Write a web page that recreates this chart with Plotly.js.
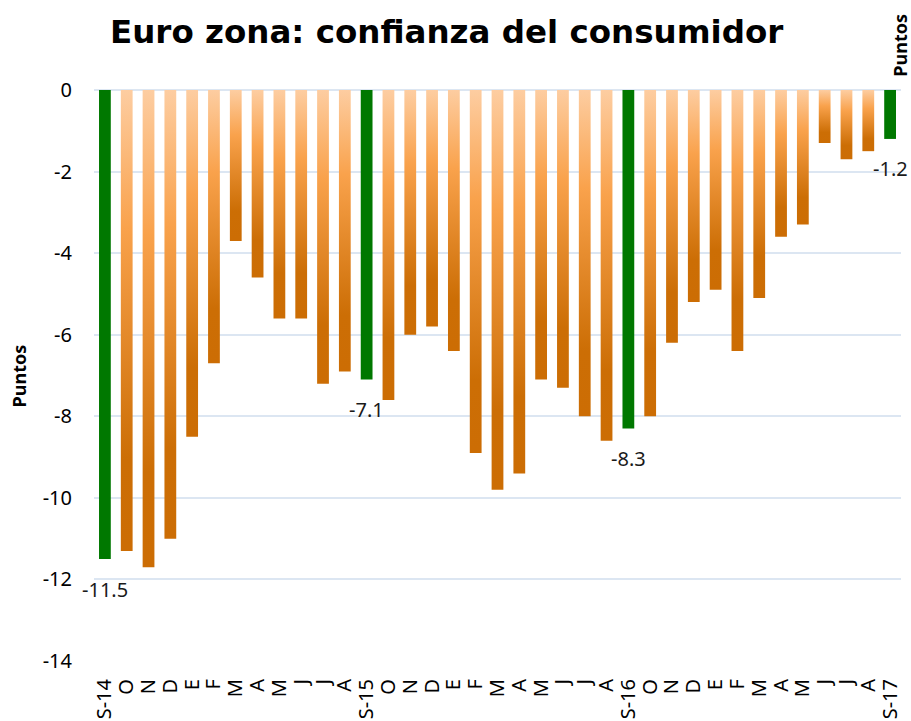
<!DOCTYPE html>
<html>
<head>
<meta charset="utf-8">
<script src="https://cdn.plot.ly/plotly-3.0.1.min.js"></script>
<style>
  html, body { margin: 0; padding: 0; background: #ffffff; }
  #chart { width: 911px; height: 721px; }
</style>
</head>
<body>
<div id="chart"></div>
<script>
// Month labels (Sep-2014 to Sep-2017)
var monthLabels = ["S-14","O","N","D","E","F","M","A","M","J","J","A",
                   "S-15","O","N","D","E","F","M","A","M","J","J","A",
                   "S-16","O","N","D","E","F","M","A","M","J","J","A",
                   "S-17"];
// Consumer confidence, points
var confidence = [-11.5,-11.3,-11.7,-11.0,-8.5,-6.7,-3.7,-4.6,-5.6,-5.6,-7.2,-6.9,
                  -7.1,-7.6,-6.0,-5.8,-6.4,-8.9,-9.8,-9.4,-7.1,-7.3,-8.0,-8.6,
                  -8.3,-8.0,-6.2,-5.2,-4.9,-6.4,-5.1,-3.6,-3.3,-1.3,-1.7,-1.5,
                  -1.2];
var yTickVals = [0,-2,-4,-6,-8,-10,-12,-14];

var GREEN = '#007800';
var ORANGE = '#ee9440';
var BODY_FONT = 'Noto Sans, Open Sans, sans-serif';

var xPos = monthLabels.map(function(_, i){ return i; });
var isSept = monthLabels.map(function(l){ return l.indexOf('S-') === 0; });
var colors = isSept.map(function(s){ return s ? GREEN : ORANGE; });

var labelAnnotations = [];
xPos.forEach(function(x, i){
  if (isSept[i]) {
    labelAnnotations.push({
      x: x, y: confidence[i], xref: 'x', yref: 'y',
      text: confidence[i].toFixed(1),
      showarrow: false, yanchor: 'middle', xanchor: 'center',
      yshift: -30,
      font: {family: BODY_FONT, size: 20, color: '#1a1a1a'}
    });
  }
});

var trace = {
  type: 'bar',
  x: xPos,
  y: confidence,
  marker: {color: colors, line: {width: 0}},
  hoverinfo: 'skip'
};

var layout = {
  width: 911, height: 721,
  margin: {l: 94, r: 10, t: 90, b: 60, pad: 0},
  paper_bgcolor: '#ffffff', plot_bgcolor: '#ffffff',
  bargap: 0.46,
  showlegend: false,
  title: {
    text: '<b>Euro zona: confianza del consumidor</b>',
    font: {family: 'DejaVu Sans, sans-serif', size: 32.5, color: '#000000'},
    x: 0.437, xanchor: 'center', xref: 'paper',
    y: 0.956, yanchor: 'middle', yref: 'container'
  },
  xaxis: {
    range: [-0.5, monthLabels.length - 0.5],
    tickmode: 'array',
    tickvals: xPos,
    ticktext: monthLabels,
    tickangle: -90,
    ticks: '',
    ticklabelstandoff: 13,
    showgrid: false, zeroline: false, showline: false,
    tickfont: {family: BODY_FONT, size: 20, color: '#000000'},
    fixedrange: true
  },
  yaxis: {
    range: [-14, 0],
    tickmode: 'array',
    tickvals: yTickVals,
    ticktext: yTickVals.map(function(v){ return String(v); }),
    ticks: '',
    ticklabelstandoff: 21,
    showgrid: true, gridcolor: '#dce6f2', gridwidth: 2,
    zeroline: true, zerolinecolor: '#dce6f2', zerolinewidth: 2,
    showline: false,
    tickfont: {family: BODY_FONT, size: 20, color: '#000000'},
    fixedrange: true
  },
  annotations: labelAnnotations.concat([
    {
      xref: 'paper', yref: 'paper', x: -0.093, y: 0.5,
      text: '<b>Puntos</b>', textangle: -90, showarrow: false,
      xanchor: 'center', yanchor: 'middle',
      font: {family: BODY_FONT, size: 18, color: '#000000'}
    },
    {
      xref: 'paper', yref: 'paper', x: 0.9985, y: 1.079,
      text: '<b>Puntos</b>', textangle: -90, showarrow: false,
      xanchor: 'center', yanchor: 'middle',
      font: {family: BODY_FONT, size: 18, color: '#000000'}
    }
  ])
};

Plotly.newPlot('chart', [trace], layout, {displayModeBar: false, staticPlot: true}).then(function(gd){
  var svg = gd.querySelector('.main-svg');
  var ns = 'http://www.w3.org/2000/svg';
  var defs = svg.querySelector('defs');
  if (!defs) { defs = document.createElementNS(ns, 'defs'); svg.insertBefore(defs, svg.firstChild); }
  var grad = document.createElementNS(ns, 'linearGradient');
  grad.setAttribute('id', 'barGradOrange');
  grad.setAttribute('x1', '0'); grad.setAttribute('y1', '0');
  grad.setAttribute('x2', '0'); grad.setAttribute('y2', '1');
  [['0', '#fdcda1'], ['0.3', '#f9a24c'], ['0.8', '#cc6e05'], ['1', '#cc6d04']].forEach(function(s){
    var st = document.createElementNS(ns, 'stop');
    st.setAttribute('offset', s[0]);
    st.setAttribute('stop-color', s[1]);
    grad.appendChild(st);
  });
  defs.appendChild(grad);
  var paths = gd.querySelectorAll('.barlayer .trace .point path');
  paths.forEach(function(p, i){
    if (!isSept[i]) { p.style.fill = 'url(#barGradOrange)'; }
  });
});
</script>
</body>
</html>
